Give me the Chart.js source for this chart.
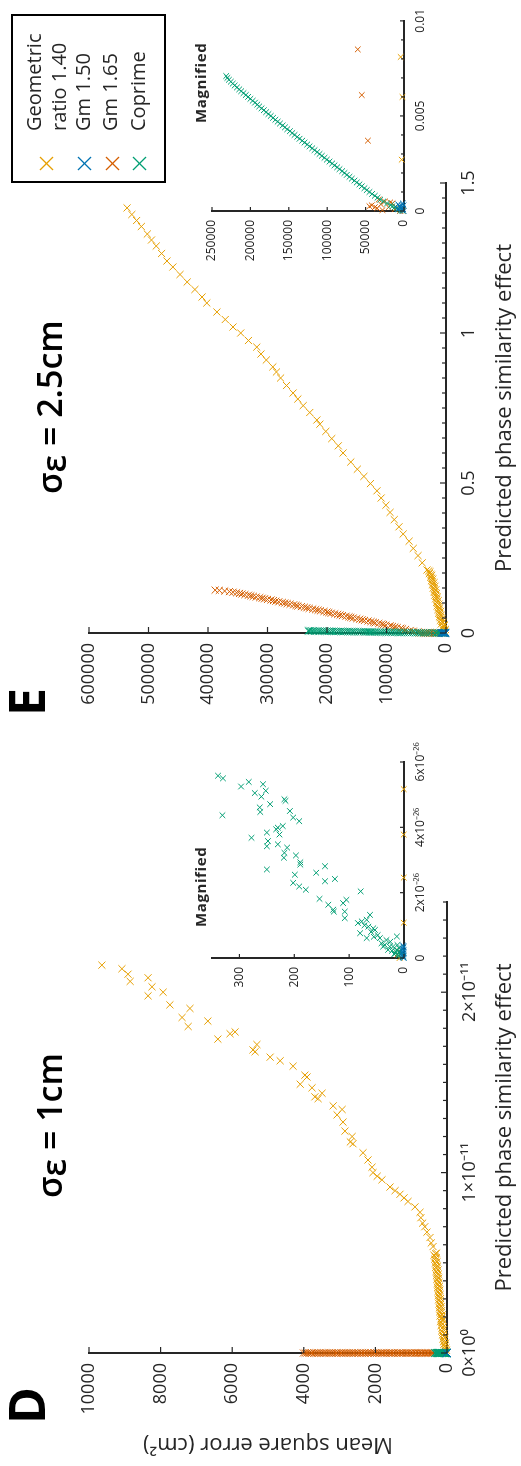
<!DOCTYPE html>
<html><head><meta charset="utf-8">
<script src="https://cdn.jsdelivr.net/npm/chart.js@4.4.1/dist/chart.umd.min.js"></script>
<style>
html,body{margin:0;padding:0;background:#fff;width:521px;height:1466px;overflow:hidden;}
#fig{position:absolute;left:0;top:0;width:1466px;height:521px;transform-origin:0 0;transform:translate(0px,1466px) rotate(-90deg);font-family:'Open Sans',sans-serif;color:#262626;background:#fff;}
canvas{position:absolute;}
.lbl{position:absolute;white-space:nowrap;line-height:1;}
#legend{position:absolute;left:1283px;top:11px;width:169px;height:155px;box-sizing:border-box;border:2.5px solid #000;background:#fff;}
#legend .t{position:absolute;left:50px;font-size:20px;line-height:1;white-space:nowrap;color:#262626;}
#legend svg{position:absolute;left:10px;}
</style></head><body>
<div id="fig">
  <canvas id="dMain" width="640" height="521" style="left:0;top:0;width:640px;height:521px"></canvas>
  <canvas id="dInset" width="320" height="320" style="left:440px;top:150px;width:320px;height:320px"></canvas>
  <canvas id="eMain" width="646" height="521" style="left:720px;top:0;width:646px;height:521px"></canvas>
  <canvas id="eInset" width="316" height="320" style="left:1150px;top:150px;width:316px;height:320px"></canvas>

  <div class="lbl" style="left:42px;top:1px;font-size:50px;font-weight:700;color:#000">D</div>
  <div class="lbl" style="left:750px;top:1px;font-size:50px;font-weight:700;color:#000">E</div>
  <div class="lbl" style="left:268px;top:32px;font-size:34px;font-weight:600;color:#000">σ<span style="position:relative;top:0.12em">ε</span> = 1cm</div>
  <div class="lbl" style="left:972px;top:32px;font-size:34px;font-weight:600;color:#000">σ<span style="position:relative;top:0.12em">ε</span> = 2.5cm</div>
  <div class="lbl" style="left:539px;top:193px;font-size:15px;font-weight:700;letter-spacing:0.6px">Magnified</div>
  <div class="lbl" style="left:1343px;top:193px;font-size:15px;font-weight:700;letter-spacing:0.6px">Magnified</div>

  <div id="legend">
    <svg width="15" height="15" style="top:26px"><path d="M1,1L14,14M14,1L1,14" stroke="#E69F00" stroke-width="1.3" fill="none"/></svg>
    <svg width="15" height="15" style="top:64px"><path d="M1,1L14,14M14,1L1,14" stroke="#0072B2" stroke-width="1.3" fill="none"/></svg>
    <svg width="15" height="15" style="top:92px"><path d="M1,1L14,14M14,1L1,14" stroke="#D55E00" stroke-width="1.3" fill="none"/></svg>
    <svg width="15" height="15" style="top:119px"><path d="M1,1L14,14M14,1L1,14" stroke="#009E73" stroke-width="1.3" fill="none"/></svg>
    <div class="t" style="top:11px">Geometric</div>
    <div class="t" style="top:36px">ratio 1.40</div>
    <div class="t" style="top:60px">Gm 1.50</div>
    <div class="t" style="top:87px">Gm 1.65</div>
    <div class="t" style="top:115px">Coprime</div>
  </div>
</div>
<script>
// ---------------- DATA ----------------
const seriesNames = ['Geometric ratio 1.40', 'Gm 1.50', 'Gm 1.65', 'Coprime'];

// Panel D (sigma = 1cm): [predicted phase similarity effect, mean square error]
const dGeo = [
 [1.08e-26,0.5],[2.46e-26,0.5],[3.78e-26,0.5],[5.17e-26,0.5],
 [0,8],[0.005e-11,25],[0.010e-11,45],[0.015e-11,15],[0.020e-11,60],[0.028e-11,30],[0.035e-11,75],[0.040e-11,50],[0.048e-11,90],[0.055e-11,40],
 [0.062e-11,100],[0.070e-11,70],[0.078e-11,115],[0.085e-11,55],[0.092e-11,95],[0.100e-11,130],[0.108e-11,80],[0.115e-11,120],[0.122e-11,150],[0.130e-11,95],
 [0.138e-11,140],[0.145e-11,110],[0.152e-11,165],[0.160e-11,125],[0.168e-11,150],[0.175e-11,185],[0.182e-11,115],[0.190e-11,160],[0.198e-11,140],[0.205e-11,195],
 [0.212e-11,130],[0.220e-11,170],[0.228e-11,205],[0.235e-11,150],[0.242e-11,185],[0.250e-11,215],[0.258e-11,160],[0.265e-11,195],[0.272e-11,225],[0.280e-11,170],
 [0.288e-11,205],[0.295e-11,235],[0.302e-11,180],[0.310e-11,215],[0.318e-11,245],[0.325e-11,190],[0.332e-11,225],[0.340e-11,255],[0.348e-11,200],[0.355e-11,235],
 [0.362e-11,265],[0.370e-11,210],[0.378e-11,245],[0.385e-11,275],[0.392e-11,220],[0.400e-11,255],[0.408e-11,285],[0.415e-11,230],[0.422e-11,265],[0.430e-11,295],
 [0.438e-11,240],[0.445e-11,275],[0.452e-11,305],[0.460e-11,250],[0.468e-11,285],[0.475e-11,315],[0.482e-11,265],[0.490e-11,300],[0.498e-11,330],[0.505e-11,280],
 [0.512e-11,315],[0.520e-11,345],[0.528e-11,300],[0.535e-11,330],[0.542e-11,365],[0.550e-11,320],
 [0.554e-11,288],[0.59e-11,390],[0.61e-11,440],[0.64e-11,475],[0.67e-11,560],[0.70e-11,620],[0.72e-11,680],[0.75e-11,730],[0.78e-11,754],[0.81e-11,894],
 [0.84e-11,1089],[0.86e-11,1200],[0.88e-11,1313],[0.90e-11,1450],[0.92e-11,1592],[0.96e-11,1816],[0.98e-11,1950],[1.00e-11,2067],[1.03e-11,2095],[1.07e-11,2207],
 [1.11e-11,2346],[1.16e-11,2626],[1.17e-11,2700],[1.20e-11,2650],[1.23e-11,2850],[1.28e-11,2905],[1.32e-11,3070],[1.35e-11,2930],[1.37e-11,3180],[1.41e-11,3600],
 [1.42e-11,3690],[1.44e-11,3490],[1.47e-11,3770],[1.49e-11,4100],[1.53e-11,3910],[1.54e-11,3970],[1.59e-11,4300],[1.62e-11,4660],[1.64e-11,4940],[1.67e-11,5360],
 [1.68e-11,5420],[1.71e-11,5310],[1.74e-11,6400],[1.77e-11,6060],[1.78e-11,5920],[1.81e-11,7230],[1.84e-11,6680],[1.86e-11,7400],[1.91e-11,7180],[1.93e-11,7740],
 [1.98e-11,8350],[2.00e-11,7930],[2.03e-11,8240],[2.06e-11,8850],[2.08e-11,8350],[2.10e-11,8910],[2.13e-11,9080],[2.15e-11,9640]
];
const dGm150 = [
 [0,0.5],[0.03e-26,2],[0.06e-26,1],[0.10e-26,3],[0.13e-26,0.8],[0.17e-26,2.2],[0.20e-26,1.4],[0.24e-26,0.6],[0.28e-26,2.6],[0.31e-26,1.2],[0.35e-26,0.4],[0.38e-26,1.8]
];
const dGm165 = [
 [0.10e-26,12],[0.20e-26,8],[0.15e-26,4],
 [0.02e-26,380],[0.02e-26,415],[0.02e-26,455],[0.02e-26,490],[0.02e-26,530],[0.02e-26,575],[0.02e-26,610],[0.02e-26,650],[0.02e-26,700],[0.02e-26,735],
 [0.02e-26,780],[0.02e-26,820],[0.02e-26,865],[0.02e-26,900],[0.02e-26,950],[0.02e-26,990],[0.02e-26,1030],[0.02e-26,1080],[0.02e-26,1120],[0.02e-26,1160],
 [0.02e-26,1210],[0.02e-26,1250],[0.02e-26,1290],[0.02e-26,1340],[0.02e-26,1380],[0.02e-26,1420],[0.02e-26,1470],[0.02e-26,1510],[0.02e-26,1560],[0.02e-26,1600],
 [0.02e-26,1640],[0.02e-26,1690],[0.02e-26,1730],[0.02e-26,1780],[0.02e-26,1820],[0.02e-26,1860],[0.02e-26,1910],[0.02e-26,1960],[0.02e-26,2010],[0.02e-26,2050],
 [0.02e-26,2100],[0.02e-26,2140],[0.02e-26,2190],[0.02e-26,2230],[0.02e-26,2280],[0.02e-26,2320],[0.02e-26,2370],[0.02e-26,2410],[0.02e-26,2460],[0.02e-26,2500],
 [0.02e-26,2550],[0.02e-26,2600],[0.02e-26,2640],[0.02e-26,2690],[0.02e-26,2730],[0.02e-26,2780],[0.02e-26,2830],[0.02e-26,2870],[0.02e-26,2920],[0.02e-26,2960],
 [0.02e-26,3010],[0.02e-26,3060],[0.02e-26,3100],[0.02e-26,3150],[0.02e-26,3200],[0.02e-26,3250],[0.02e-26,3290],[0.02e-26,3340],[0.02e-26,3390],[0.02e-26,3430],
 [0.02e-26,3480],[0.02e-26,3530],[0.02e-26,3580],[0.02e-26,3620],[0.02e-26,3670],[0.02e-26,3720],[0.02e-26,3770],[0.02e-26,3810],[0.02e-26,3860],[0.02e-26,3910],
 [0.02e-26,3960],[0.02e-26,4010]
];
const dCoprime = [
 [5.58e-26,339],[5.50e-26,330],[4.37e-26,331],[5.25e-26,297],[5.39e-26,283],[5.05e-26,272],[5.32e-26,257],[5.12e-26,252],[4.94e-26,260],[4.61e-26,263],
 [4.47e-26,262],[4.71e-26,244],[3.68e-26,278],[3.84e-26,250],[3.58e-26,248],[3.42e-26,250],[2.71e-26,250],[4.86e-26,218],[4.81e-26,216],[4.50e-26,208],
 [4.30e-26,202],[4.19e-26,191],[4.04e-26,221],[3.99e-26,230],[3.94e-26,233],[3.78e-26,227],[3.48e-26,230],[3.22e-26,218],[3.38e-26,213],[3.07e-26,219],
 [3.14e-26,197],[2.93e-26,189],[2.86e-26,189],[2.55e-26,199],[2.30e-26,202],[2.19e-26,191],[2.09e-26,179],[2.61e-26,160],[2.81e-26,144],[2.35e-26,144],
 [2.42e-26,126],[1.81e-26,154],[1.63e-26,138],[1.48e-26,129],[1.42e-26,128],[1.68e-26,111],[1.78e-26,105],[1.42e-26,108],[1.22e-26,108],[2.04e-26,79],
 [1.07e-26,84],[1.12e-26,77],[0.76e-26,80],[1.17e-26,68],[0.96e-26,65],[1.32e-26,62],[0.91e-26,56],[0.86e-26,53],[0.61e-26,68],[0.61e-26,44],
 [0.45e-26,41],[0.40e-26,35],[0.35e-26,26],[0.35e-26,20],[0.66e-26,13],[0.25e-26,13],[0.19e-26,7],[0.14e-26,16],[0.25e-26,29],[0.35e-26,38],
 [0.05e-26,3],[0.10e-26,6],[0.08e-26,10],[0.15e-26,4],[0.20e-26,15],[0.12e-26,18],[0.30e-26,9],[0.22e-26,22],[0.40e-26,12],[0.50e-26,25],
 [0.55e-26,32],[0.03e-26,1],[0.70e-26,48],[0.80e-26,60],[1.00e-26,72],[0.65e-26,55]
];

// Panel E (sigma = 2.5cm)
const eGeo = [
 [0,1500],[0.0027,3000],[0.0081,4300],
 [0.006,2000],[0.012,1000],[0.015,4500],[0.018,6000],[0.024,3500],[0.027,2500],[0.030,8000],[0.036,5000],[0.039,7000],[0.042,9500],[0.048,6500],
 [0.051,9000],[0.054,11000],[0.060,8000],[0.063,10500],[0.066,12500],[0.072,9000],[0.075,11500],[0.078,13500],[0.084,10500],[0.087,13000],
 [0.090,15000],[0.096,12000],[0.099,14500],[0.102,16000],[0.108,13000],[0.111,15500],[0.114,17500],[0.120,14500],[0.123,17000],[0.126,19000],
 [0.132,16000],[0.135,18500],[0.138,20000],[0.144,17000],[0.147,19500],[0.150,21500],[0.156,18500],[0.159,21000],[0.162,23000],[0.168,20000],
 [0.171,22500],[0.174,24500],[0.180,22000],[0.183,24000],[0.186,26000],[0.192,24000],[0.195,25500],[0.198,28000],[0.204,27000],[0.207,29000],[0.210,32000],
 [0.234,40000],[0.258,47000],[0.282,55000],[0.306,62000],[0.330,72000],[0.354,79000],[0.378,87000],[0.402,94000],[0.426,101000],[0.450,109000],
 [0.474,116000],[0.498,127000],[0.522,138000],[0.546,149000],[0.570,160000],[0.600,173000],[0.624,181000],[0.648,192000],[0.672,202000],[0.696,212000],
 [0.710,217000],[0.735,229000],[0.758,240000],[0.780,249000],[0.800,257000],[0.825,268000],[0.850,278000],[0.870,285000],[0.887,291000],[0.910,302000],
 [0.930,311000],[0.953,318000],[0.975,332000],[1.000,345000],[1.020,358000],[1.045,371000],[1.070,385000],[1.100,402000],[1.120,410000],[1.145,422000],
 [1.170,435000],[1.195,447000],[1.220,459000],[1.240,469000],[1.265,478000],[1.290,487000],[1.310,495000],[1.330,502000],[1.355,512000],[1.375,520000],
 [1.395,528000],[1.417,536000]
];
const eGm150 = [
 [0,500],[0.00005,2500],[0.0001,1200],[0.00015,4000],[0.0002,2000],[0.00025,6000],[0.0003,3000],[0.00035,7500],[0.0004,1500],[0.0002,5000],[0.0001,8000],[0.0003,500]
];
const eGm165 = [
 [0,5000],[0.0001,12000],[0.0002,20000],[0.00005,28000],[0.00015,35000],[0.0003,42000],[0.0004,15000],[0.0005,25000],[0.00025,45000],[0.0006,33000],
 [0.0001,8000],[0.00035,30000],[0.0002,38000],[0.00045,18000],
 [0.0037,47000],[0.0061,55000],[0.0085,60200],
 [0.012,68000],[0.014,73000],[0.016,76000],[0.018,82000],[0.020,86000],[0.022,90000],[0.024,94000],[0.026,101000],[0.028,105000],[0.030,108000],
 [0.032,113000],[0.034,119000],[0.036,122000],[0.038,126000],[0.040,131000],[0.042,137000],[0.044,141000],[0.046,145000],[0.048,150000],[0.050,156000],
 [0.052,160000],[0.054,163000],[0.056,168000],[0.058,174000],[0.060,178000],[0.062,182000],[0.064,187000],[0.066,193000],[0.068,197000],[0.070,200000],
 [0.072,205000],[0.074,211000],[0.076,215000],[0.078,219000],[0.080,224000],[0.082,230000],[0.084,234000],[0.086,238000],[0.088,243000],[0.090,249000],
 [0.092,252000],[0.094,256000],[0.096,262000],[0.098,267000],[0.100,271000],[0.102,275000],[0.104,281000],[0.106,286000],[0.108,290000],[0.110,294000],
 [0.112,300000],[0.114,305000],[0.116,309000],[0.118,313000],[0.120,319000],[0.122,324000],[0.124,328000],[0.126,332000],[0.128,338000],[0.130,343000],
 [0.132,347000],[0.134,352000],[0.136,358000],[0.138,364000],[0.140,372000],[0.142,381000],[0.143,388000]
];
const eCoprime = [
 [0.00002,2000],[0.00005,4500],[0.0001,7000],[0.00015,9500],[0.0002,12000],[0.00025,15000],[0.0003,17500],[0.0004,22000],[0.0005,27000],[0.0006,31000],
 [0.0007,34500],[0.0008,38000],[0.0009,41500],[0.0010,45000],[0.0011,48500],[0.0012,51500],[0.0013,55000],[0.0014,58000],[0.0015,61500],[0.0016,64500],
 [0.0017,68000],[0.0018,71000],[0.0019,74500],[0.0020,77500],[0.0021,80500],[0.0022,84000],[0.0023,87000],[0.0024,90500],[0.0025,93500],[0.0026,97000],
 [0.0027,100500],[0.0028,103500],[0.0029,107000],[0.0030,110000],[0.0031,113000],[0.0032,116500],[0.0033,119500],[0.0034,123000],[0.0035,126000],[0.0036,129500],
 [0.0037,132500],[0.0038,136000],[0.0039,139000],[0.0040,142500],[0.0041,145500],[0.0042,148500],[0.0043,152000],[0.0044,155000],[0.0045,158000],[0.0046,161500],
 [0.0047,164500],[0.0048,167500],[0.0049,170500],[0.0050,173500],[0.0051,176500],[0.0052,179500],[0.0053,182500],[0.0054,185500],[0.0055,188500],[0.0056,191000],
 [0.0057,194000],[0.0058,197000],[0.0059,200000],[0.0060,203000],[0.0061,206000],[0.0062,209000],[0.0063,212000],[0.0064,214500],[0.0065,217500],[0.0066,220500],
 [0.0067,223000],[0.0068,225500],[0.0069,228000],[0.0070,230000],[0.0071,231500]
];

// Ticks (values and labels)
const dMainXTicks = [0, 1e-11, 2e-11];
const dMainXLabels = ['0×10⁰', '1×10⁻¹¹', '2×10⁻¹¹'];
const dMainYTicks = [0, 2000, 4000, 6000, 8000, 10000];
const dMainYLabels = ['0', '2000', '4000', '6000', '8000', '10000'];
const dInsetXTicks = [0, 2e-26, 4e-26, 6e-26];
const dInsetXLabels = ['0', '2x10⁻²⁶', '4x10⁻²⁶', '6x10⁻²⁶'];
const dInsetYTicks = [0, 100, 200, 300];
const dInsetYLabels = ['0', '100', '200', '300'];
const eMainXTicks = [0, 0.5, 1, 1.5];
const eMainXLabels = ['0', '0.5', '1', '1.5'];
const eMainYTicks = [0, 100000, 200000, 300000, 400000, 500000, 600000];
const eMainYLabels = ['0', '100000', '200000', '300000', '400000', '500000', '600000'];
const eInsetXTicks = [0, 0.005, 0.01];
const eInsetXLabels = ['0', '0.005', '0.01'];
const eInsetYTicks = [0, 50000, 100000, 150000, 200000, 250000];
const eInsetYLabels = ['0', '50000', '100000', '150000', '200000', '250000'];

// ---------------- RENDER ----------------
const COLORS = { geo: '#E69F00', gm150: '#0072B2', gm165: '#D55E00', cop: '#009E73' };
const AX = '#262626';
Chart.defaults.font.family = "'Open Sans', sans-serif";
Chart.defaults.color = AX;

function buildTicks(majors, labels, minorStep, max) {
  const out = majors.map((v, i) => ({ value: v, lbl: labels[i] }));
  if (minorStep) {
    const n = Math.round(max / minorStep);
    for (let k = 0; k <= n; k++) {
      const v = k * minorStep;
      if (!majors.some(m => Math.abs(m - v) < minorStep * 1e-3)) out.push({ value: v, lbl: '' });
    }
  }
  out.sort((a, b) => a.value - b.value);
  return out;
}

const inwardTicks = {
  id: 'inwardTicks',
  afterDraw(chart, args, opts) {
    const ctx = chart.ctx, a = chart.chartArea;
    ctx.save();
    ctx.strokeStyle = AX;
    ctx.lineWidth = 1.2;
    ['x', 'y'].forEach(id => {
      const s = chart.scales[id];
      s.ticks.forEach(t => {
        const len = (t.lbl && t.lbl !== '') ? opts.major : opts.minor;
        const p = s.getPixelForValue(t.value);
        ctx.beginPath();
        if (id === 'x') { ctx.moveTo(p, a.bottom); ctx.lineTo(p, a.bottom - len); }
        else { ctx.moveTo(a.left, p); ctx.lineTo(a.left + len, p); }
        ctx.stroke();
      });
    });
    ctx.restore();
  }
};

function ds(label, pts, color, r) {
  return {
    label, data: pts.map(p => ({ x: p[0], y: p[1] })),
    pointStyle: 'crossRot', radius: r, pointRadius: r, borderColor: color, backgroundColor: color,
    pointBorderWidth: 1, borderWidth: 1, showLine: false, clip: 6
  };
}

function makeChart(id, c) {
  const xt = buildTicks(c.xTicks, c.xLabels, c.xMinor, c.xMax);
  const yt = buildTicks(c.yTicks, c.yLabels, c.yMinor, c.yMax);
  return new Chart(document.getElementById(id), {
    type: 'scatter',
    data: { datasets: [
      ds(seriesNames[1], c.data[1], COLORS.gm150, c.r),
      ds(seriesNames[3], c.data[3], COLORS.cop, c.r),
      ds(seriesNames[2], c.data[2], COLORS.gm165, c.r),
      ds(seriesNames[0], c.data[0], COLORS.geo, c.r)
    ]},
    options: {
      responsive: false, maintainAspectRatio: false, animation: false, events: [],
      layout: { padding: c.pad },
      plugins: { legend: { display: false }, tooltip: { enabled: false }, inwardTicks: c.tick },
      scales: {
        x: {
          type: 'linear', min: 0, max: c.xMax,
          afterBuildTicks: s => { s.ticks = xt.map(t => ({ value: t.value, lbl: t.lbl })); },
          afterFit: s => { s.height = c.xH; },
          ticks: { autoSkip: false, maxRotation: 0, minRotation: 0, padding: c.xPad, font: { size: c.fs }, color: AX,
                   callback: (v, i, t) => t[i].lbl },
          grid: { display: false, drawTicks: false },
          border: { display: true, color: AX, width: 2 },
          title: c.xTitle ? { display: true, text: c.xTitle, font: { size: 22 }, color: AX, padding: { top: 0, bottom: 3 } } : { display: false }
        },
        y: {
          type: 'linear', min: 0, max: c.yMax,
          afterBuildTicks: s => { s.ticks = yt.map(t => ({ value: t.value, lbl: t.lbl })); },
          afterFit: s => { s.width = c.yW; },
          ticks: { autoSkip: false, padding: c.yPad, font: { size: c.fs }, color: AX,
                   callback: (v, i, t) => t[i].lbl },
          grid: { display: false, drawTicks: false },
          border: { display: true, color: AX, width: 2 },
          title: c.yTitle ? { display: true, text: c.yTitle, font: { size: 22 }, color: AX, padding: { top: 9, bottom: 0 } } : { display: false }
        }
      }
    },
    plugins: [inwardTicks]
  });
}

makeChart('dMain', {
  data: [dGeo, dGm150, dGm165, dCoprime], r: 5,
  xTicks: dMainXTicks, xLabels: dMainXLabels, xMinor: 1e-12, xMax: 2.5e-11,
  yTicks: dMainYTicks, yLabels: dMainYLabels, yMinor: 0, yMax: 10000,
  pad: { left: 0, right: 76, top: 89, bottom: 0 }, xH: 74, yW: 113, xPad: 12, yPad: 10, fs: 18,
  tick: { major: 6, minor: 4 },
  xTitle: 'Predicted phase similarity effect', yTitle: 'Mean square error (cm²)'
});
makeChart('dInset', {
  data: [dGeo, dGm150, dGm165, dCoprime], r: 4,
  xTicks: dInsetXTicks, xLabels: dInsetXLabels, xMinor: 0, xMax: 6e-26,
  yTicks: dInsetYTicks, yLabels: dInsetYLabels, yMinor: 0, yMax: 350,
  pad: { left: 0, right: 56, top: 62, bottom: 0 }, xH: 66, yW: 68, xPad: 9, yPad: 9, fs: 12,
  tick: { major: 4, minor: 3 }
});
makeChart('eMain', {
  data: [eGeo, eGm150, eGm165, eCoprime], r: 5,
  xTicks: eMainXTicks, xLabels: eMainXLabels, xMinor: 0.05, xMax: 1.5,
  yTicks: eMainYTicks, yLabels: eMainYLabels, yMinor: 0, yMax: 600000,
  pad: { left: 0, right: 83, top: 89, bottom: 0 }, xH: 75, yW: 113, xPad: 12, yPad: 10, fs: 18,
  tick: { major: 6, minor: 4 },
  xTitle: 'Predicted phase similarity effect'
});
makeChart('eInset', {
  data: [eGeo, eGm150, eGm165, eCoprime], r: 4,
  xTicks: eInsetXTicks, xLabels: eInsetXLabels, xMinor: 0.001, xMax: 0.01,
  yTicks: eInsetYTicks, yLabels: eInsetYLabels, yMinor: 0, yMax: 250000,
  pad: { left: 0, right: 13, top: 62, bottom: 0 }, xH: 66, yW: 105, xPad: 9, yPad: 9, fs: 12,
  tick: { major: 4, minor: 3 }
});
</script>
</body></html>
